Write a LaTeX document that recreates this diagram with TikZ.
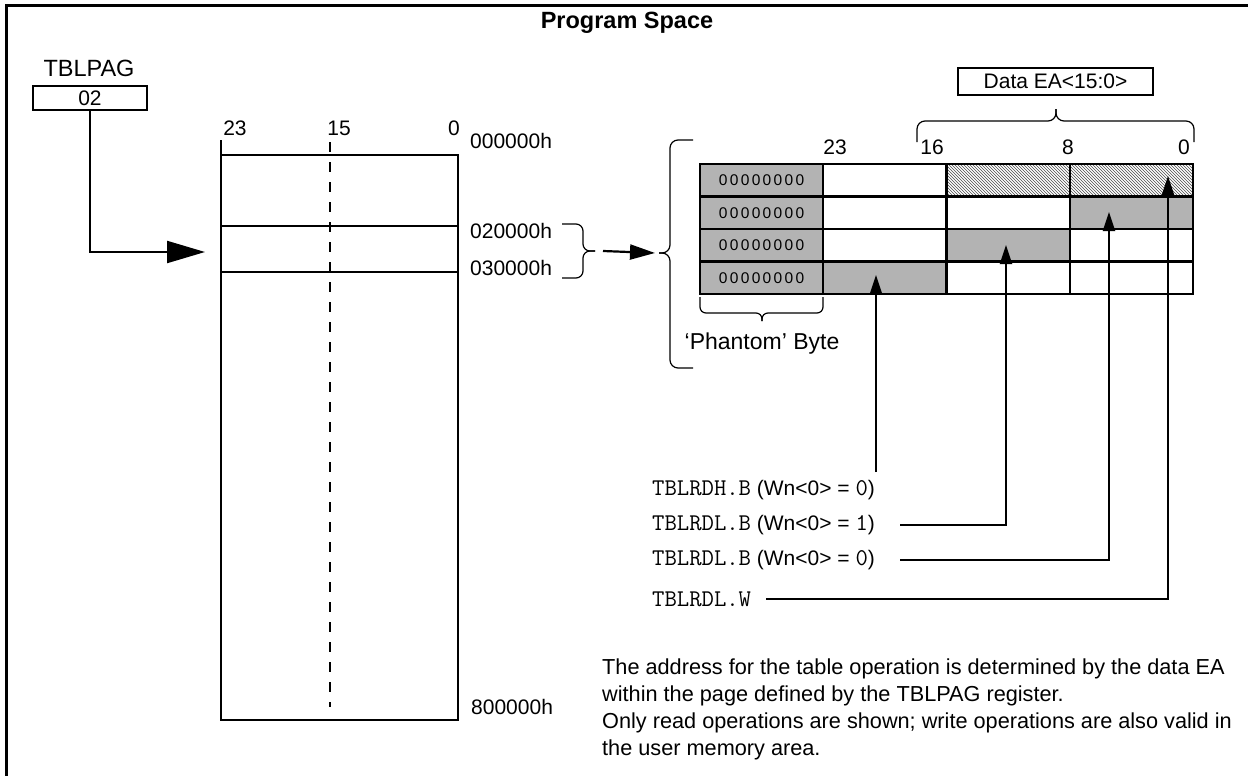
\documentclass[tikz,border=0pt]{standalone}
\usepackage{fontspec}
\setmainfont{Liberation Sans}
\newfontfamily\cellfont[LetterSpace=15]{Liberation Sans}
\newcommand\opcode[1]{{\fontsize{24}{25}\selectfont\ttfamily #1}}
\usepackage{tikz}
\usetikzlibrary{arrows.meta, patterns}
\definecolor{cellgray}{HTML}{B3B3B3}

\begin{document}
\begin{tikzpicture}[x=1pt, y=-1pt, font=\fontsize{21}{25}\selectfont, inner sep=0pt,
  heavy/.style={line width=2.2pt},
  light/.style={line width=1.2pt, rounded corners=7pt},
  cell/.style={draw, line width=2.2pt, minimum width=123.25pt, minimum height=32.5pt},
  blank/.style={cell},
  ph/.style={cell, fill=cellgray},
  shade/.style={cell, fill=cellgray},
  hatch/.style={cell, pattern=north west lines, pattern color=black!70},
  up/.style={heavy, -{Triangle[length=19pt,width=12pt]}}]
  \useasboundingbox (0,0) rectangle (1248,776);
  \draw[heavy] (6.5,5.5) rectangle (1270,800);
  \node[font=\bfseries\fontsize{23.5}{26}\selectfont] (title) at (627,23) {Program Space};

  % page register
  \node[font=\fontsize{23.5}{26}\selectfont] (pagname) at (89,68) {TBLPAG};
  \node[draw, line width=1.8pt, minimum width=114pt, minimum height=24pt] (pagreg) at (90,98) {02};
  \coordinate (pagtip) at (205,252);
  \draw[heavy, -{Triangle[length=38pt,width=22pt]}] (pagreg.south) |- (pagtip);

  % program memory
  \draw[heavy] (221,140) -- (221,720) -- (458,720) -- (458,155) -- (221,155);
  \draw[heavy] (221,226) -- (458,226);
  \draw[heavy] (221,272) -- (458,272);
  \draw[line width=1.8pt, dash pattern=on 10pt off 10pt] (330,142) -- (330,707);
  \node (m23) at (235,128) {23};
  \node (m15) at (339,128) {15};
  \node (m0) at (454,128) {0};
  \node[anchor=west] (a0) at (470,141) {000000h};
  \node[anchor=west] (a2) at (470,231) {020000h};
  \node[anchor=west] (a3) at (470,268) {030000h};
  \node[anchor=west] (a8) at (471,707) {800000h};

  % braces and page arrow
  \coordinate (sbtip) at (595,251);
  \coordinate (bbtip) at (659,253);
  \draw[light] (562,224) -- (583,224) -- (583,251) -- (sbtip);
  \draw[light] (562,278) -- (583,278) -- (583,251) -- (sbtip);
  \draw[heavy, -{Triangle[length=25pt,width=15pt]}] ([xshift=8pt]sbtip) -- ([xshift=-4pt]bbtip);
  \draw[light, rounded corners=8pt] (693,140) -- (670,140) -- (670,253) -- (bbtip);
  \draw[light, rounded corners=8pt] (693,368) -- (670,368) -- (670,253) -- (bbtip);

  % table page
  \foreach \r/\c/\k in {1/0/ph, 1/1/blank, 1/2/hatch, 1/3/hatch,
                        2/0/ph, 2/1/blank, 2/2/blank, 2/3/shade,
                        3/0/ph, 3/1/blank, 3/2/shade, 3/3/blank,
                        4/0/ph, 4/1/shade, 4/2/blank, 4/3/blank}
    \node[\k] (c\r\c) at ({761.6+123.25*\c},{180.25+32.5*(\r-1)}) {};
  \foreach \r in {1,...,4}
    \node[font=\cellfont\fontsize{15.5}{16}\selectfont] (ph\r) at (c\r0) {00000000};
  \node (b23) at (835,147) {23};
  \node (b16) at (932,147) {16};
  \node (b8) at (1068,147) {8};
  \node (b0) at (1184,147) {0};
  \draw[light, rounded corners=8pt] (917,142) -- (917,121) -- (1056,121) -- (1056,109);
  \draw[light, rounded corners=8pt] (1194,142) -- (1194,121) -- (1056,121) -- (1056,109);
  \node[draw, line width=1.8pt, minimum width=195pt, minimum height=27pt] (ea) at (1055.5,81.5) {Data EA<15:0>};
  \draw[light, rounded corners=6pt] (700,297) -- (700,313) -- (762,313) -- (762,321);
  \draw[light, rounded corners=6pt] (823,297) -- (823,313) -- (762,313) -- (762,321);
  \node[font=\fontsize{23}{26}\selectfont] (phantom) at (762,344) {`Phantom' Byte};

  % table read instructions
  \node[anchor=west] (rdA) at (652,490) {\opcode{TBLRDH.B} (Wn<0> = \opcode{0})};
  \node[anchor=west] (rdB) at (652,525) {\opcode{TBLRDL.B} (Wn<0> = \opcode{1})};
  \node[anchor=west] (rdC) at (652,560) {\opcode{TBLRDL.B} (Wn<0> = \opcode{0})};
  \node[anchor=west] (rdD) at (652,599) {\opcode{TBLRDL.W}};
  \coordinate (footA) at (876,472);
  \coordinate (footB) at (900,525);
  \coordinate (footC) at (900,560);
  \coordinate (footD) at (766,599);
  \coordinate (tipA) at (876,275);
  \coordinate (tipB) at (1006,245);
  \coordinate (tipC) at (1109,212);
  \coordinate (tipD) at (1168,176);
  \draw[up] (footA) -- (tipA);
  \draw[up] (footB) -| (tipB);
  \draw[up] (footC) -| (tipC);
  \draw[up] (footD) -| (tipD);

  \node[anchor=north west, align=left, font=\fontsize{21.7}{27}\selectfont] (note) at (602,659)
    {The address for the table operation is determined by the data EA\\
     within the page defined by the TBLPAG register.\\
     Only read operations are shown; write operations are also valid in\\
     the user memory area.};
\end{tikzpicture}
\end{document}
